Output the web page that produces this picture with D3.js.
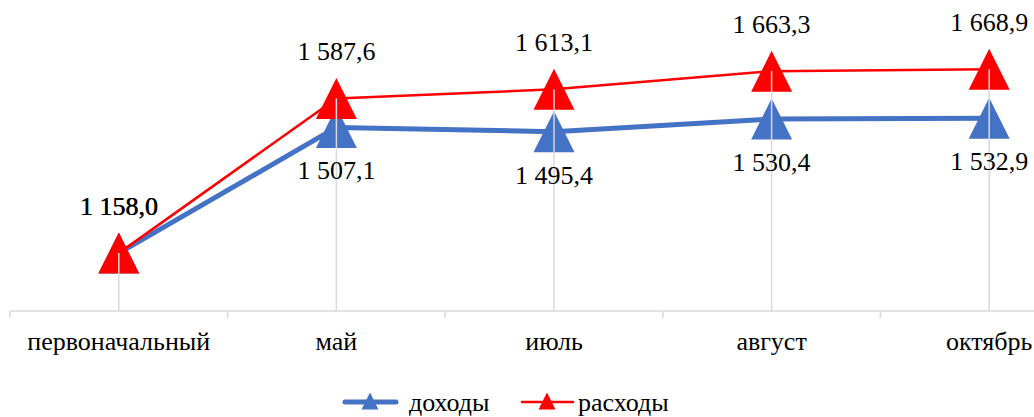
<!DOCTYPE html>
<html>
<head>
<meta charset="utf-8">
<script src="https://cdn.jsdelivr.net/npm/d3@7"></script>
<style>
  body { margin: 0; background: #fff; }
  text { font-family: 'Liberation Serif', 'Times New Roman', Tinos, 'DejaVu Serif', serif; }
</style>
</head>
<body>
<svg id="chart" width="1034" height="417"></svg>
<script>
var categories = ["первоначальный", "май", "июль", "август", "октябрь"];
var dohody = [1158.0, 1507.1, 1495.4, 1530.4, 1532.9];
var rashody = [1158.0, 1587.6, 1613.1, 1663.3, 1668.9];
var seriesNames = ["доходы", "расходы"];

const svg = d3.select("#chart");

// band from 10, step ~217.6, right end falls outside the window
const x = d3.scaleBand()
  .domain(categories)
  .range([10, 10 + 217.6 * categories.length]);

const y = d3.scaleLinear()
  .domain([1000, 1800])
  .range([310, 22]);

const cx = d => x(d) + x.bandwidth() / 2;
const fmt = v => {
  // 1 587,6 style
  const parts = v.toFixed(1).split(".");
  return parts[0].replace(/\B(?=(\d{3})+(?!\d))/g, " ") + "," + parts[1];
};

// x axis
const axis = svg.append("g").attr("transform", "translate(0,311)");
axis.append("line")
  .attr("x1", 10).attr("x2", 1034)
  .attr("stroke", "#d9d9d9").attr("stroke-width", 1.5);
categories.forEach(c => {
  axis.append("line")
    .attr("x1", x(c)).attr("x2", x(c))
    .attr("y1", 0).attr("y2", 7)
    .attr("stroke", "#d9d9d9").attr("stroke-width", 1.5);
});
categories.forEach(c => {
  svg.append("text")
    .attr("x", cx(c)).attr("y", 350)
    .attr("text-anchor", "middle")
    .attr("font-size", "26px")
    .attr("fill", "#000")
    .text(c);
});

function triangle(g, px, py, w, color) {
  // triangle with bbox centred at (px, py)
  const h = w;
  g.append("path")
    .attr("d", `M ${px},${py - h / 2} L ${px + w / 2},${py + h / 2} L ${px - w / 2},${py + h / 2} Z`)
    .attr("fill", color);
}

const line = d3.line()
  .x((d, i) => cx(categories[i]))
  .y(d => y(d));

// blue series
svg.append("path")
  .datum(dohody)
  .attr("d", line)
  .attr("fill", "none")
  .attr("stroke", "#4472C4")
  .attr("stroke-width", 5)
  .attr("stroke-linejoin", "round");

// red series
svg.append("path")
  .datum(rashody)
  .attr("d", line)
  .attr("fill", "none")
  .attr("stroke", "#FF0000")
  .attr("stroke-width", 2.5)
  .attr("stroke-linejoin", "round");

const markers = svg.append("g");
dohody.forEach((v, i) => triangle(markers, cx(categories[i]), y(v), 41, "#4472C4"));
rashody.forEach((v, i) => triangle(markers, cx(categories[i]), y(v), 41, "#FF0000"));

// drop lines, drawn over the markers
categories.forEach((c, i) => {
  svg.append("line")
    .attr("x1", cx(c)).attr("x2", cx(c))
    .attr("y1", y(Math.max(dohody[i], rashody[i])))
    .attr("y2", 311)
    .attr("stroke", "#d9d9d9").attr("stroke-width", 1.5);
});

// data labels
const labels = svg.append("g")
  .attr("font-size", "26px").attr("fill", "#000").attr("text-anchor", "middle");
rashody.forEach((v, i) => {
  labels.append("text").attr("x", cx(categories[i])).attr("y", y(v) - 38).text(fmt(v));
});
dohody.forEach((v, i) => {
  if (i === 0) {
    labels.append("text").attr("x", cx(categories[i]) + 0.4).attr("y", y(v) - 38).text(fmt(v));
  } else {
    labels.append("text").attr("x", cx(categories[i])).attr("y", y(v) + 52).text(fmt(v));
  }
});

// legend
const legend = svg.append("g").attr("font-size", "26px");
legend.append("line")
  .attr("x1", 345).attr("x2", 396).attr("y1", 402).attr("y2", 402)
  .attr("stroke", "#4472C4").attr("stroke-width", 5).attr("stroke-linecap", "round");
triangle(legend, 370, 401, 17, "#4472C4");
legend.append("text").attr("x", 409).attr("y", 411).text(seriesNames[0]);

legend.append("line")
  .attr("x1", 522).attr("x2", 573).attr("y1", 402).attr("y2", 402)
  .attr("stroke", "#FF0000").attr("stroke-width", 2.5).attr("stroke-linecap", "round");
triangle(legend, 547, 401, 17, "#FF0000");
legend.append("text").attr("x", 578).attr("y", 411).text(seriesNames[1]);
</script>
</body>
</html>
